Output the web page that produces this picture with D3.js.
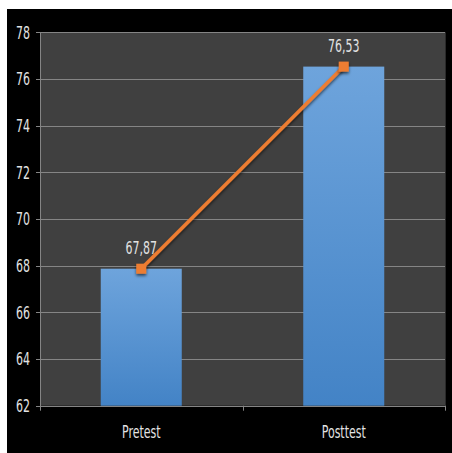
<!DOCTYPE html>
<html><head><meta charset="utf-8">
<script src="https://cdn.jsdelivr.net/npm/d3@7"></script>
<style>
html,body{margin:0;padding:0;background:#fff;}
svg{display:block;}
text{font-family:"Liberation Sans Narrow","DejaVu Sans Condensed",sans-serif;fill:#e3e3e3;}
</style></head>
<body>
<script>
const categories = ["Pretest", "Posttest"];
const values = [67.87, 76.53];
const valueLabels = ["67,87", "76,53"];
const yTicks = [62, 64, 66, 68, 70, 72, 74, 76, 78];

(function () {
const W = 452, H = 453;
const svg = d3.select("body").append("svg").attr("width", W).attr("height", H);

const defs = svg.append("defs");
const grad = defs.append("linearGradient").attr("id", "barGrad")
  .attr("x1", 0).attr("y1", 0).attr("x2", 0).attr("y2", 1);
grad.append("stop").attr("offset", "0%").attr("stop-color", "#6ea4dc");
grad.append("stop").attr("offset", "100%").attr("stop-color", "#4383c6");
const sh = defs.append("filter").attr("id", "shadow").attr("x", "-50%").attr("y", "-50%").attr("width", "200%").attr("height", "200%");
sh.append("feDropShadow").attr("dx", 0).attr("dy", 2).attr("stdDeviation", 1.5).attr("flood-color", "#000").attr("flood-opacity", 0.6);

// black panel
svg.append("rect").attr("x", 7).attr("y", 9).attr("width", W - 7).attr("height", H - 9).attr("fill", "#000");

const pLeft = 40, pRight = 445, pTop = 32.3, pBottom = 405.7;
const x = d3.scaleBand().domain(categories).range([pLeft, pRight]).paddingInner(0).paddingOuter(0);
const y = d3.scaleLinear().domain([62, 78]).range([pBottom, pTop]);

// plot area
svg.append("rect").attr("x", pLeft).attr("y", pTop).attr("width", pRight - pLeft).attr("height", pBottom - pTop).attr("fill", "#404040");
svg.append("line").attr("x1", pRight + 0.5).attr("x2", pRight + 0.5).attr("y1", pTop).attr("y2", pBottom).attr("stroke", "#2a2a2a").attr("stroke-width", 1);

// gridlines + y ticks
svg.append("g").selectAll("line").data(yTicks).join("line")
  .attr("x1", pLeft - 4).attr("x2", pRight)
  .attr("y1", d => Math.round(y(d)) + 0.5).attr("y2", d => Math.round(y(d)) + 0.5)
  .attr("stroke", "#858585").attr("stroke-width", 1);

// y axis line
svg.append("line").attr("x1", pLeft + 0.5).attr("x2", pLeft + 0.5).attr("y1", pTop).attr("y2", pBottom + 0.5)
  .attr("stroke", "#858585");

// y labels
svg.append("g").selectAll("text").data(yTicks).join("text")
  .attr("transform", d => `translate(30,${y(d)}) scale(0.72,1)`)
  .attr("text-anchor", "end").attr("dominant-baseline", "central")
  .attr("font-size", 17).text(d => d);

// bars
const barW = x.bandwidth() * 0.4;
svg.append("g").selectAll("rect").data(values).join("rect")
  .attr("x", (d, i) => x(categories[i]) + x.bandwidth() / 2 - barW / 2)
  .attr("y", d => y(d)).attr("width", barW).attr("height", d => pBottom - y(d))
  .attr("fill", "url(#barGrad)");

// x axis ticks
const xTickPos = [pLeft, pLeft + x.bandwidth(), pRight];
svg.append("g").selectAll("line").data(xTickPos).join("line")
  .attr("x1", d => Math.round(d) + 0.5).attr("x2", d => Math.round(d) + 0.5)
  .attr("y1", pBottom).attr("y2", pBottom + 5).attr("stroke", "#858585");

// x labels
svg.append("g").selectAll("text").data(categories).join("text")
  .attr("transform", d => `translate(${x(d) + x.bandwidth() / 2},438) scale(0.72,1)`)
  .attr("text-anchor", "middle").attr("font-size", 17).text(d => d);

// line
const pts = values.map((v, i) => [x(categories[i]) + x.bandwidth() / 2, y(v)]);
svg.append("path").datum(pts).attr("d", d3.line())
  .attr("fill", "none").attr("stroke", "#ed7d31").attr("stroke-width", 3.5)
  .attr("filter", "url(#shadow)");

// markers
svg.append("g").selectAll("rect").data(pts).join("rect")
  .attr("x", d => d[0] - 5).attr("y", d => d[1] - 5).attr("width", 10).attr("height", 10)
  .attr("fill", "#ed7d31").attr("filter", "url(#shadow)");

// value labels
svg.append("g").selectAll("text").data(pts).join("text")
  .attr("transform", d => `translate(${d[0]},${d[1] - 15}) scale(0.72,1)`)
  .attr("text-anchor", "middle").attr("font-size", 17).text((d, i) => valueLabels[i]);
})();
</script>
</body></html>
